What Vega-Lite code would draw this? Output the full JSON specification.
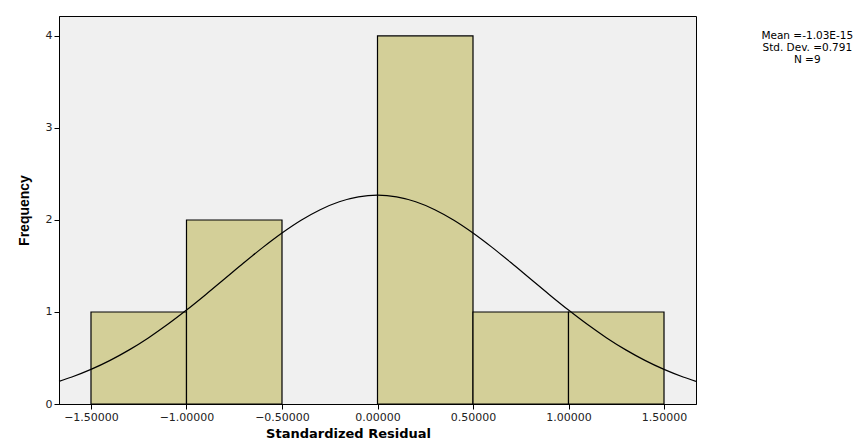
{
  "$schema": "https://vega.github.io/schema/vega-lite/v6.json",
  "width": 637,
  "height": 388,
  "autosize": {"type": "none"},
  "padding": {"left": 59, "top": 16, "right": 172, "bottom": 40},
  "background": "white",
  "config": {
    "view": {"fill": "#f0f0f0", "stroke": "black", "strokeWidth": 1},
    "axis": {"grid": false, "domainColor": "black", "tickColor": "black", "labelColor": "#222", "labelFont": "DejaVu Sans", "labelFontSize": 11, "titleColor": "black", "tickSize": 5}
  },
  "datasets": {
    "bins": [
      {"lo": -1.5, "hi": -1.0, "count": 1},
      {"lo": -1.0, "hi": -0.5, "count": 2},
      {"lo": 0.0, "hi": 0.5, "count": 4},
      {"lo": 0.5, "hi": 1.0, "count": 1},
      {"lo": 1.0, "hi": 1.5, "count": 1}
    ],
    "curve": [
      {"x": -1.6675, "y": 0.2460}, {"x": -1.6, "y": 0.2934}, {"x": -1.5, "y": 0.3759}, {"x": -1.4, "y": 0.4740},
      {"x": -1.3, "y": 0.5881}, {"x": -1.2, "y": 0.7181}, {"x": -1.1, "y": 0.8630}, {"x": -1.0, "y": 1.0207},
      {"x": -0.9, "y": 1.1880}, {"x": -0.8, "y": 1.3609}, {"x": -0.7, "y": 1.5343}, {"x": -0.6, "y": 1.7022},
      {"x": -0.5, "y": 1.8586}, {"x": -0.4, "y": 1.9972}, {"x": -0.3, "y": 2.1121}, {"x": -0.2, "y": 2.1982},
      {"x": -0.1, "y": 2.2515}, {"x": 0.0, "y": 2.2696}, {"x": 0.1, "y": 2.2515}, {"x": 0.2, "y": 2.1982},
      {"x": 0.3, "y": 2.1121}, {"x": 0.4, "y": 1.9972}, {"x": 0.5, "y": 1.8586}, {"x": 0.6, "y": 1.7022},
      {"x": 0.7, "y": 1.5343}, {"x": 0.8, "y": 1.3609}, {"x": 0.9, "y": 1.1880}, {"x": 1.0, "y": 1.0207},
      {"x": 1.1, "y": 0.8630}, {"x": 1.2, "y": 0.7181}, {"x": 1.3, "y": 0.5881}, {"x": 1.4, "y": 0.4740},
      {"x": 1.5, "y": 0.3759}, {"x": 1.6, "y": 0.2934}, {"x": 1.6675, "y": 0.2460}
    ],
    "stats": [
      {"label": "Mean =-1.03E-15", "x": 2.25, "y": 4.0},
      {"label": "Std. Dev. =0.791", "x": 2.25, "y": 3.87},
      {"label": "N =9", "x": 2.25, "y": 3.74}
    ]
  },
  "layer": [
    {
      "data": {"name": "bins"},
      "mark": {"type": "rect", "fill": "#d3cf98", "stroke": "black", "strokeWidth": 1.2},
      "encoding": {
        "x": {"field": "lo", "type": "quantitative",
          "scale": {"domain": [-1.6675, 1.6675], "nice": false, "zero": false},
          "axis": {"values": [-1.5, -1.0, -0.5, 0.0, 0.5, 1.0, 1.5], "format": ".5f",
            "title": "Standardized Residual", "titleFont": "DejaVu Sans", "titleFontSize": 13, "titleFontWeight": "bold",
            "titlePadding": 5, "titleX": 289}},
        "x2": {"field": "hi"},
        "y": {"field": "count", "type": "quantitative",
          "scale": {"domain": [0, 4.217], "nice": false},
          "axis": {"values": [0, 1, 2, 3, 4], "format": "d",
            "title": "Frequency", "titleFont": "Liberation Sans", "titleFontSize": 14, "titleFontWeight": "bold",
            "titlePadding": 14}},
        "y2": {"datum": 0}
      }
    },
    {
      "data": {"name": "curve"},
      "mark": {"type": "line", "color": "black", "strokeWidth": 1.2, "interpolate": "monotone"},
      "encoding": {
        "x": {"field": "x", "type": "quantitative"},
        "y": {"field": "y", "type": "quantitative"}
      }
    },
    {
      "data": {"name": "stats"},
      "mark": {"type": "text", "font": "DejaVu Sans", "fontSize": 10.5, "color": "black", "align": "center", "baseline": "middle", "clip": false},
      "encoding": {
        "x": {"field": "x", "type": "quantitative"},
        "y": {"field": "y", "type": "quantitative"},
        "text": {"field": "label"}
      }
    }
  ]
}
